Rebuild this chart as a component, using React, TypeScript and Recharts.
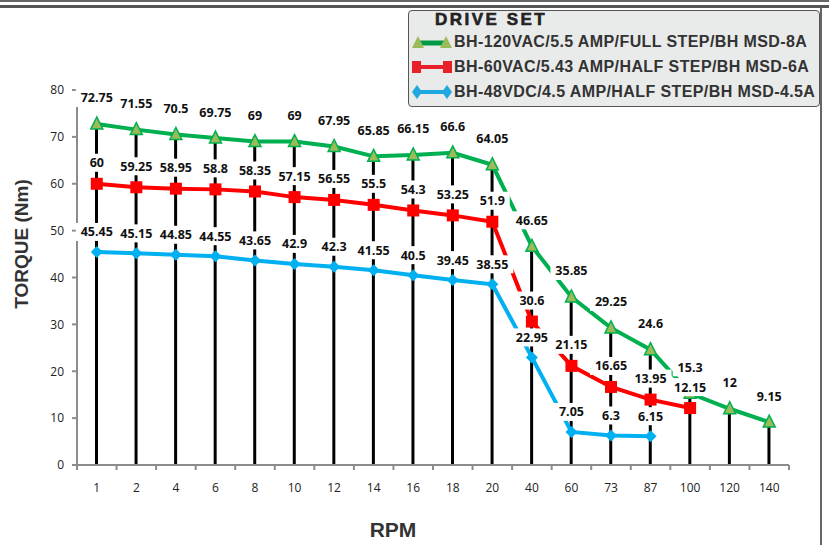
import React from 'react';
import { ComposedChart, Line, Bar, XAxis, YAxis, LabelList } from 'recharts';

const rpm = ['1', '2', '4', '6', '8', '10', '12', '14', '16', '18', '20', '40', '60', '73', '87', '100', '120', '140'];
const fullStep8A = [72.75, 71.55, 70.5, 69.75, 69, 69, 67.95, 65.85, 66.15, 66.6, 64.05, 46.65, 35.85, 29.25, 24.6, 15.3, 12, 9.15];
const halfStep6A = [60, 59.25, 58.95, 58.8, 58.35, 57.15, 56.55, 55.5, 54.3, 53.25, 51.9, 30.6, 21.15, 16.65, 13.95, 12.15, null, null];
const halfStep45A = [45.45, 45.15, 44.85, 44.55, 43.65, 42.9, 42.3, 41.55, 40.5, 39.45, 38.55, 22.95, 7.05, 6.3, 6.15, null, null, null];
const yTicks = [0, 10, 20, 30, 40, 50, 60, 70, 80];

const seriesNames = [
  'BH-120VAC/5.5 AMP/FULL STEP/BH MSD-8A',
  'BH-60VAC/5.43 AMP/HALF STEP/BH MSD-6A',
  'BH-48VDC/4.5 AMP/HALF STEP/BH MSD-4.5A',
];

const data = rpm.map((r, i) => {
  const vals = [fullStep8A[i], halfStep6A[i], halfStep45A[i]].filter((v) => v != null) as number[];
  return {
    rpm: r,
    full8: fullStep8A[i],
    half6: halfStep6A[i],
    half45: halfStep45A[i],
    top: Math.max(...vals),
  };
});

const GREEN = '#00b050';
const RED = '#ff0000';
const BLUE = '#00b0f0';
const AXIS = '#8c8c8c';

const W = 829;
const H = 545;
const margin = { top: 90, right: 40, left: 30, bottom: 50 };
const yAxisWidth = 47;
const bandWidth = (W - margin.left - margin.right - yAxisWidth) / rpm.length;

const Triangle = ({ cx, cy }: any) => {
  if (cx == null || cy == null) return null;
  return (
    <polygon
      points={`${cx},${cy - 7} ${cx - 6},${cy + 5} ${cx + 6},${cy + 5}`}
      fill="#9bbb59"
      stroke={GREEN}
      strokeWidth={1.5}
    />
  );
};

const Square = ({ cx, cy }: any) => {
  if (cx == null || cy == null) return null;
  return <rect x={cx - 6} y={cy - 6} width={12} height={12} fill={RED} />;
};

const Diamond = ({ cx, cy }: any) => {
  if (cx == null || cy == null) return null;
  return <polygon points={`${cx},${cy - 6} ${cx + 6},${cy} ${cx},${cy + 6} ${cx - 6},${cy}`} fill={BLUE} />;
};

const makeLabel = (lift: number) => (props: any) => {
  const { x, y, value } = props;
  if (value == null || x == null || y == null) return null;
  const txt = String(value);
  const w = txt.length * 7.2 + 6;
  const ly = y - lift;
  return (
    <g>
      <rect x={x - w / 2} y={ly - 9} width={w} height={18} fill="#fff" />
      <text
        x={x}
        y={ly}
        textAnchor="middle"
        dominantBaseline="central"
        fontFamily="'Open Sans', sans-serif"
        fontSize={12.5}
        fontWeight={700}
        fill="#111"
      >
        {txt}
      </text>
    </g>
  );
};

const GreenLabel = makeLabel(26);
const RedLabel = makeLabel(21);
const BlueLabel = makeLabel(20);

const XTick = (props: any) => {
  const { x, y, payload, index } = props;
  const axisY = y - 18;
  const left = x - bandWidth / 2;
  return (
    <g>
      <line x1={left} y1={axisY} x2={left} y2={axisY + 5} stroke={AXIS} strokeWidth={2} />
      {index === rpm.length - 1 && (
        <line x1={x + bandWidth / 2} y1={axisY} x2={x + bandWidth / 2} y2={axisY + 5} stroke={AXIS} strokeWidth={2} />
      )}
      <text
        x={x}
        y={y}
        dy="0.71em"
        textAnchor="middle"
        fontFamily="'Open Sans', sans-serif"
        fontSize={12}
        fill="#222"
      >
        {payload.value}
      </text>
    </g>
  );
};

const LegendIcon = ({ kind }: { kind: number }) => {
  if (kind === 0) {
    return (
      <svg width={40} height={14}>
        <line x1={5} y1={8} x2={35} y2={8} stroke="#009a44" strokeWidth={5} />
        <polygon points="6,1 0,13 12,13" fill="#9bbb59" />
        <polygon points="34,1 28,13 40,13" fill="#9bbb59" />
      </svg>
    );
  }
  if (kind === 1) {
    return (
      <svg width={40} height={14}>
        <line x1={5} y1={7} x2={35} y2={7} stroke="#e8202a" strokeWidth={4} />
        <rect x={0} y={1} width={9} height={12} fill="#e8202a" />
        <rect x={31} y={1} width={9} height={12} fill="#e8202a" />
      </svg>
    );
  }
  return (
    <svg width={40} height={14}>
      <line x1={5} y1={7} x2={35} y2={7} stroke="#1ea7e1" strokeWidth={4} />
      <polygon points="5,0 10,7 5,14 0,7" fill="#1ea7e1" />
      <polygon points="35,0 40,7 35,14 30,7" fill="#1ea7e1" />
    </svg>
  );
};

export default function App() {
  return (
    <div style={{ position: 'absolute', left: 0, top: 0, width: W, height: H, background: '#fff', overflow: 'hidden' }}>
      <div style={{ position: 'absolute', left: 0, top: 0, width: W, height: 2, background: '#666' }} />
      <div style={{ position: 'absolute', left: 0, top: 5, width: W, height: 3, background: '#555' }} />
      <div
        style={{
          position: 'absolute',
          left: 820,
          top: 8,
          width: 2,
          height: H,
          background: '#666',
        }}
      />
      <ComposedChart width={W} height={H} data={data} margin={margin}>
        <XAxis
          dataKey="rpm"
          axisLine={{ stroke: AXIS, strokeWidth: 2 }}
          tickLine={false}
          tickSize={0}
          tickMargin={18}
          height={30}
          interval={0}
          tick={(p: any) => <XTick {...p} />}
        />
        <YAxis
          domain={[0, 80]}
          ticks={yTicks}
          width={yAxisWidth}
          axisLine={{ stroke: AXIS, strokeWidth: 2 }}
          tickLine={{ stroke: AXIS, strokeWidth: 2 }}
          tickSize={5}
          tickMargin={8}
          tick={{ fontFamily: "'Open Sans', sans-serif", fontSize: 12, fill: '#222' }}
        />
        <Line
          dataKey="full8"
          stroke={GREEN}
          strokeWidth={4}
          dot={<Triangle />}
          activeDot={false}
          isAnimationActive={false}
        />
        <Line
          dataKey="half6"
          stroke={RED}
          strokeWidth={4}
          dot={<Square />}
          activeDot={false}
          isAnimationActive={false}
        />
        <Line
          dataKey="half45"
          stroke={BLUE}
          strokeWidth={4}
          dot={<Diamond />}
          activeDot={false}
          isAnimationActive={false}
        />
        <Bar dataKey="top" barSize={3} fill="#000" isAnimationActive={false} />
        <Line dataKey="full8" stroke="none" dot={false} activeDot={false} isAnimationActive={false}>
          <LabelList dataKey="full8" content={GreenLabel} />
        </Line>
        <Line dataKey="half6" stroke="none" dot={false} activeDot={false} isAnimationActive={false}>
          <LabelList dataKey="half6" content={RedLabel} />
        </Line>
        <Line dataKey="half45" stroke="none" dot={false} activeDot={false} isAnimationActive={false}>
          <LabelList dataKey="half45" content={BlueLabel} />
        </Line>
      </ComposedChart>

      <div
        style={{
          position: 'absolute',
          left: 2,
          top: 244,
          transform: 'translate(0, -50%) rotate(-90deg)',
          transformOrigin: 'center',
          width: 40,
          display: 'flex',
          justifyContent: 'center',
          whiteSpace: 'nowrap',
          fontFamily: "'Liberation Sans', Arial, sans-serif",
          fontWeight: 700,
          fontSize: 19,
          color: '#333',
        }}
      >
        TORQUE (Nm)
      </div>
      <div
        style={{
          position: 'absolute',
          left: 343,
          top: 518,
          width: 100,
          textAlign: 'center',
          fontFamily: "'Liberation Sans', Arial, sans-serif",
          fontWeight: 700,
          fontSize: 21,
          color: '#333',
        }}
      >
        RPM
      </div>

      <div
        style={{
          position: 'absolute',
          left: 408,
          top: 10,
          width: 410,
          height: 95,
          background: '#e9eaea',
          border: '1px solid #555',
          borderRadius: 4,
          fontFamily: "'Liberation Sans', Arial, sans-serif",
          fontWeight: 700,
          color: '#333',
        }}
      >
        <div
          style={{
            position: 'absolute',
            left: 26,
            top: -1,
            fontSize: 17,
            letterSpacing: 2.5,
            color: '#222',
            WebkitTextStroke: '0.6px #222',
          }}
        >
          DRIVE SET
        </div>
        {seriesNames.map((name, i) => (
          <div
            key={name}
            style={{ position: 'absolute', left: 3, top: 21 + i * 25, display: 'flex', alignItems: 'center', height: 20 }}
          >
            <LegendIcon kind={i} />
            <span style={{ marginLeft: 2, fontSize: 16, letterSpacing: 0.4, whiteSpace: 'nowrap' }}>{name}</span>
          </div>
        ))}
      </div>
    </div>
  );
}
